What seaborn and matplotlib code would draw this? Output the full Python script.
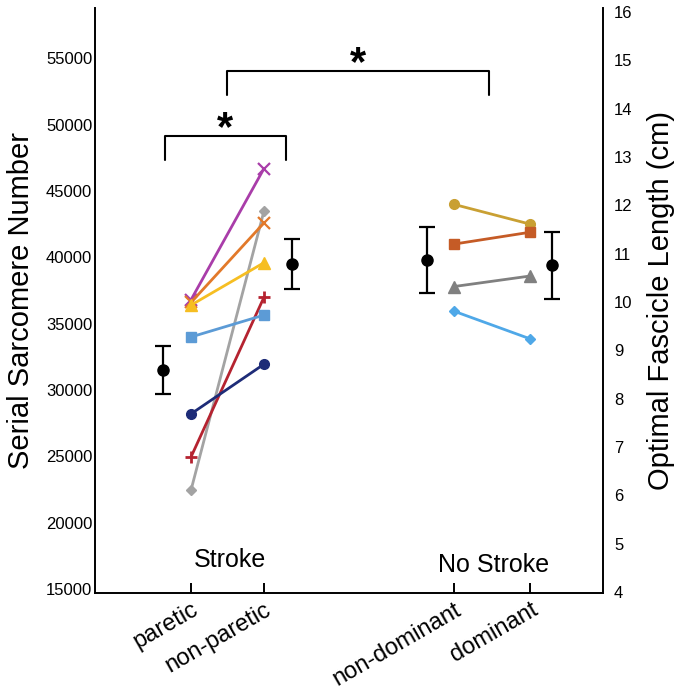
import seaborn as sns
import matplotlib.pyplot as plt

# conditions on the x axis
conditions = ['paretic', 'non-paretic', 'non-dominant', 'dominant']
cond_x = [1.0, 2.0, 4.6, 5.65]

# stroke subjects (serial sarcomere number)
stroke_paretic = [36800, 22450, 36600, 36400, 24950, 34000, 28200]
stroke_nonparetic = [46700, 43500, 42600, 39600, 37000, 35650, 31950]
stroke_colors = ['#A93DA9', '#A3A3A3', '#E2792A', '#F6BE22', '#B52330', '#5C9BD6', '#1E2C78']
stroke_markers = ['x', 'D', 'x', '^', '+', 's', 'o']

# no-stroke subjects
nostroke_nondom = [44000, 41000, 37800, 35950]
nostroke_dom = [42500, 41900, 38600, 33850]
nostroke_colors = ['#C9A033', '#C55B26', '#808080', '#4FA8E8']
nostroke_markers = ['o', 's', '^', 'D']

# group means with error bars
mean_x = [0.62, 2.38, 4.23, 5.95]
means = [31500, 39500, 39800, 39400]
sems = [1800, 1900, 2500, 2500]

# significance brackets
brackets = [(0.64, 2.30, 47340, 49150), (1.49, 5.08, 52240, 54050)]

sns.set_style('white')
plt.rcParams['font.family'] = ['Liberation Sans', 'DejaVu Sans']
for key in ['text.color', 'axes.labelcolor', 'xtick.color', 'ytick.color']:
    plt.rcParams[key] = 'black'

fig = plt.figure(figsize=(6.77, 6.93), dpi=100)
ax = fig.add_axes([95 / 677, 100 / 693, 508 / 677, 585 / 693])

marker_size = {'x': 9, 'D': 5.5, '^': 8, '+': 9, 's': 6.5, 'o': 7}
marker_width = {'x': 1.6, 'D': 1, '^': 1, '+': 2, 's': 1, 'o': 1}

for lo, hi, c, m in zip(stroke_paretic, stroke_nonparetic, stroke_colors, stroke_markers):
    sns.lineplot(x=cond_x[:2], y=[lo, hi], color=c, marker=m, markersize=marker_size[m],
                 markeredgecolor=c, markeredgewidth=marker_width[m], linewidth=2, ax=ax)

for lo, hi, c, m in zip(nostroke_nondom, nostroke_dom, nostroke_colors, nostroke_markers):
    sns.lineplot(x=cond_x[2:], y=[lo, hi], color=c, marker=m, markersize=marker_size[m],
                 markeredgecolor=c, markeredgewidth=marker_width[m], linewidth=2, ax=ax)

ax.errorbar(mean_x, means, yerr=sems, fmt='o', color='black', markersize=8,
            elinewidth=1.6, capsize=6, capthick=1.6, zorder=5)

for x0, x1, y0, y1 in brackets:
    ax.plot([x0, x0, x1, x1], [y0, y1, y1, y0], color='black', linewidth=1.5)
    ax.annotate('*', xy=((x0 + x1) / 2, y1), xytext=(0, -3), textcoords='offset points',
                ha='center', va='baseline', fontsize=30, fontweight='bold')

ax.text(1.53, 0.056, 'Stroke', transform=ax.get_xaxis_transform(),
        ha='center', va='center', fontsize=18)
ax.text(5.15, 0.048, 'No Stroke', transform=ax.get_xaxis_transform(),
        ha='center', va='center', fontsize=18)

ax.set_xlim(-0.315, 6.644)
ax.set_ylim(14700, 58800)
ax.set_yticks(range(15000, 55001, 5000))
ax.tick_params(axis='y', length=0, pad=2, labelsize=12)
ax.set_xticks(cond_x)
ax.set_xticklabels(conditions, rotation=30, ha='right', rotation_mode='anchor', fontsize=17)
ax.tick_params(axis='x', direction='in', length=7, width=1.4, pad=4, bottom=True)
ax.set_ylabel('Serial Sarcomere Number', fontsize=21, labelpad=8)
ax.set_xlabel('')
ax.spines['top'].set_visible(False)
ax.spines['right'].set_visible(False)
for s in ['left', 'bottom']:
    ax.spines[s].set_linewidth(1.4)
    ax.spines[s].set_color('black')

ax2 = ax.twinx()
ax2.set_ylim(3.98, 16.08)
ax2.set_yticks(range(4, 17))
ax2.tick_params(axis='y', length=0, pad=8, labelsize=12)
ax2.set_ylabel('Optimal Fascicle Length (cm)', fontsize=21, labelpad=10)
for s in ['left', 'top', 'bottom']:
    ax2.spines[s].set_visible(False)
ax2.spines['right'].set_linewidth(1.4)
ax2.spines['right'].set_color('black')

fig.savefig('out.png', dpi=100)
